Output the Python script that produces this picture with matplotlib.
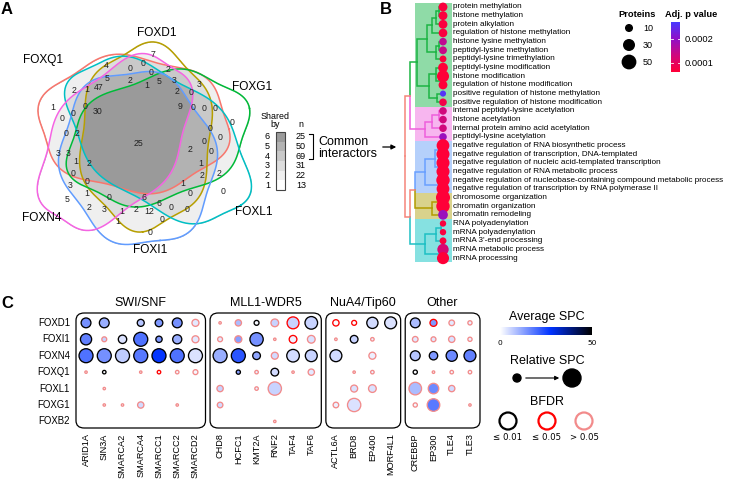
import numpy as np
import matplotlib
matplotlib.use('Agg')
import matplotlib.pyplot as plt
from matplotlib.path import Path
from matplotlib.patches import Rectangle, FancyBboxPatch, Circle
from matplotlib.colors import LinearSegmentedColormap, Normalize, to_rgba

plt.rcParams['font.family'] = ['Liberation Sans', 'DejaVu Sans']

W, H = 738, 479
fig = plt.figure(figsize=(W / 100, H / 100), dpi=100)


def px_axes(x0, y0, x1, y1):
    return fig.add_axes([x0 / W, 1 - y1 / H, (x1 - x0) / W, (y1 - y0) / H])


ov = px_axes(0, 0, W, H)
ov.set_xlim(0, W)
ov.set_ylim(H, 0)
ov.axis('off')

# ---------------- data ----------------
# A: Venn of interactors
venn_sets = ['FOXQ1', 'FOXD1', 'FOXG1', 'FOXL1', 'FOXI1', 'FOXN4']
venn_colors = ['#F8766D', '#B79F00', '#00BA38', '#00BFC4', '#619CFF', '#F564E3']
venn_counts = [7, 4, 0, 0, 2, 5, 2, 0, 5, 3, 3, 2, 1, 47, 1, 2, 0, 1, 0, 30,
               9, 0, 0, 0, 0, 0, 0, 0, 0, 2, 0, 25, 3, 3, 1, 2, 2, 0, 0, 1,
               2, 2, 0, 0, 3, 1, 0, 0, 5, 1, 0, 6, 2, 3, 6, 0, 0, 1, 2, 12,
               0, 1, 0]
shared_by = [6, 5, 4, 3, 2, 1]
shared_n = [25, 50, 69, 31, 22, 13]

# B: GO terms
go_terms = ['protein methylation', 'histone methylation', 'protein alkylation',
            'regulation of histone methylation', 'histone lysine methylation',
            'peptidyl-lysine methylation', 'peptidyl-lysine trimethylation',
            'peptidyl-lysine modification', 'histone modification',
            'regulation of histone modification',
            'positive regulation of histone methylation',
            'positive regulation of histone modification',
            'internal peptidyl-lysine acetylation', 'histone acetylation',
            'internal protein amino acid acetylation', 'peptidyl-lysine acetylation',
            'negative regulation of RNA biosynthetic process',
            'negative regulation of transcription, DNA-templated',
            'negative regulation of nucleic acid-templated transcription',
            'negative regulation of RNA metabolic process',
            'negative regulation of nucleobase-containing compound metabolic process',
            'negative regulation of transcription by RNA polymerase II',
            'chromosome organization', 'chromatin organization', 'chromatin remodeling',
            'RNA polyadenylation', 'mRNA polyadenylation', "mRNA 3'-end processing",
            'mRNA metabolic process', 'mRNA processing']
go_proteins = [20, 20, 20, 19, 14, 15, 11, 25, 40, 20, 8, 14, 14, 14, 14, 14,
               45, 47, 47, 47, 50, 45, 55, 50, 25, 9, 9, 11, 35, 40]
go_padj = [7e-5, 7e-5, 7e-5, 7e-5, 1.5e-4, 1.4e-4, 7e-5, 6e-5, 5e-5, 6e-5, 2.6e-4, 8e-5,
           1.3e-4, 1.3e-4, 1.3e-4, 1.9e-4, 5e-5, 5e-5, 5e-5, 5e-5, 5e-5, 5e-5,
           5e-5, 5e-5, 1.9e-4, 7e-5, 7e-5, 7e-5, 1.2e-4, 6e-5]
go_clusters = ['green'] * 12 + ['pink'] * 4 + ['blue'] * 6 + ['olive'] * 3 + ['cyan'] * 5
# dendrogram: [left, right, height]
green_tree = [[[[[0, 1, 4], 2, 7], 3, 11], [[4, 5, 4], 6, 7], 16],
              [[7, [8, 9, 2], 7], [10, 11, 6], 14], 26]
pink_tree = [[[12, 13, 4], 14, 11], 15, 18]
blue_tree = [[[16, 17, 2], [18, 19, 2], 8], [20, 21, 3], 18]
olive_tree = [[22, 23, 2], 24, 11]
cyan_tree = [[[25, 26, 2], 27, 7], [28, 29, 3], 18]
go_tree = [[green_tree, pink_tree, 33], [[blue_tree, olive_tree, 28], cyan_tree, 33], 38]

# C: interactor dot plot
baits = ['FOXD1', 'FOXI1', 'FOXN4', 'FOXQ1', 'FOXL1', 'FOXG1', 'FOXB2']
groups = ['SWI/SNF', 'MLL1-WDR5', 'NuA4/Tip60', 'Other']
group_genes = [['ARID1A', 'SIN3A', 'SMARCA2', 'SMARCA4', 'SMARCC1', 'SMARCC2', 'SMARCD2'],
               ['CHD8', 'HCFC1', 'KMT2A', 'RNF2', 'TAF4', 'TAF6'],
               ['ACTL6A', 'BRD8', 'EP400', 'MORF4L1'],
               ['CREBBP', 'EP300', 'TLE4', 'TLE3']]
nan = np.nan
avg_spc = np.array([
    [15, 11, nan, 8, 14, 15, 3, 1, 9, 1, 6, 6, 6, 0.5, 0.5, 5, 4, 9, 14, 3, 2],
    [17, 6, 4, 19, 14, 11, 3, 3, 13, 15, 1, 2, 4, 1, 6, 2, nan, 3, 3, 4, 2],
    [19, 15, 7, 18, 27, 19, 4, 11, 23, 12, 5, 5, 6, 5, nan, 2, nan, 8, 14, 16, 17],
    [1, 0.5, nan, 1, 0.5, 1, 1, nan, 13, 2, 5, 1, 3, nan, 1, 2, nan, 0.5, 1, 1, 1],
    [nan, 1, nan, nan, nan, nan, nan, 6, nan, 2, 6, nan, nan, nan, 4, 4, nan, 9, 16, 5, nan],
    [nan, 1, 1, 5, nan, 1, nan, 5, nan, nan, nan, nan, nan, 2, 4, nan, nan, 1, 18, nan, 1],
    [nan, nan, nan, nan, nan, nan, nan, nan, nan, nan, 1, nan, nan, nan, nan, nan, nan, nan, nan, nan, nan],
])
rel_spc = np.array([
    [.70, .70, nan, .50, .55, .70, .50, .15, .45, .35, .55, .85, .90, .45, .35, .80, .85, .70, .50, .40, .30],
    [.80, .35, .60, 1.0, .45, .65, .50, .35, .50, .95, .12, .55, .55, .18, .55, .25, nan, .40, .35, .45, .30],
    [1.0, 1.0, 1.0, 1.0, 1.0, 1.0, 1.0, 1.0, 1.0, .55, .50, .90, .85, .85, nan, .50, nan, .70, .60, .80, .85],
    [.12, .25, nan, .12, .25, .25, .35, nan, .30, .25, .55, .15, .45, nan, .15, .25, nan, .30, .18, .25, .25],
    [nan, .12, nan, nan, nan, nan, nan, .45, nan, .25, .95, nan, nan, nan, .50, .55, nan, .90, .75, .45, nan],
    [nan, .10, .15, .45, nan, .10, nan, .40, nan, nan, nan, nan, nan, .40, .95, nan, nan, .30, .90, nan, .10],
    [nan, nan, nan, nan, nan, nan, nan, nan, nan, nan, .12, nan, nan, nan, nan, nan, nan, nan, nan, nan, nan],
])
# 0: BFDR <= 0.01, 1: <= 0.05, 2: > 0.05
bfdr = np.array([
    [0, 0, 2, 0, 0, 0, 2, 2, 2, 0, 2, 1, 0, 1, 1, 0, 0, 0, 1, 2, 2],
    [0, 2, 0, 0, 0, 0, 2, 2, 2, 0, 2, 1, 2, 2, 0, 2, 2, 2, 2, 2, 2],
    [0, 0, 0, 0, 0, 0, 0, 0, 0, 0, 2, 0, 0, 0, 2, 2, 2, 0, 0, 0, 0],
    [2, 0, 2, 2, 1, 2, 2, 2, 0, 2, 0, 2, 2, 2, 2, 2, 2, 0, 2, 2, 2],
    [2] * 21, [2] * 21, [2] * 21,
])

# ---------------- panel letters ----------------
for lab, x, y in (('A', 7, 9), ('B', 386, 9), ('C', 7, 303)):
    ov.text(x, y, lab, fontsize=12, fontweight='bold', ha='center', va='center')

# ---------------- A: Venn ----------------
venn_shapes = [(134, 124, 95, 67, 3, 0.0),
               (146, 137, 92, 66, 92, 1.0),
               (158, 138, 93, 62, -18, 2.0),
               (158, 140, 105, 62, 38, 3.0),
               (138, 158, 88, 76, 75, 4.0),
               (115, 142, 97, 60, -53, 5.0)]
venn_label_xy = [(43, 60), (157, 33), (252, 87), (254, 212), (150, 250), (42, 218)]
venn_count_xy = [(153, 54), (106, 65), (130, 68), (143, 63), (168, 69), (107, 78), (130, 80),
                 (151, 72), (159, 81), (174, 80), (199, 84), (74, 90), (87, 89), (99, 87),
                 (147, 85), (177, 91), (191, 92), (53, 107), (85, 106), (98, 111), (180, 106),
                 (193, 107), (204, 108), (215, 108), (232, 122), (62, 118), (73, 113),
                 (210, 128), (220, 137), (77, 134), (66, 134), (138, 143), (58, 154), (68, 153),
                 (76, 161), (89, 164), (190, 149), (204, 141), (211, 151), (201, 163),
                 (202, 176), (219, 173), (73, 173), (87, 181), (70, 186), (183, 183),
                 (190, 193), (223, 192), (67, 200), (87, 193), (109, 198), (144, 198),
                 (89, 207), (104, 209), (159, 203), (171, 207), (187, 209), (122, 212),
                 (136, 210), (149, 212), (162, 219), (118, 222), (150, 232)]


def blob(cx, cy, a, b, ang, ph, amp=3.5, k=6, n=500):
    t = np.linspace(0, 2 * np.pi, n)
    w = amp * np.sin(k * t + ph)
    x = (a + w) * np.cos(t)
    y = (b + w) * np.sin(t)
    r = np.deg2rad(ang)
    return np.column_stack([cx + x * np.cos(r) - y * np.sin(r),
                            cy + x * np.sin(r) + y * np.cos(r)])


curves = [blob(*s) for s in venn_shapes]
gx = np.arange(20, 265, 0.5)
gy = np.arange(30, 255, 0.5)
GX, GY = np.meshgrid(gx, gy)
pts = np.column_stack([GX.ravel(), GY.ravel()])
cnt = np.zeros(len(pts), int)
for c in curves:
    cnt += Path(c).contains_points(pts)
cnt = cnt.reshape(GX.shape)
grays = ['#ffffff', '#efefef', '#dddddd', '#c9c9c9', '#b3b3b3', '#9b9b9b']
img = np.zeros(cnt.shape + (4,))
for k in range(1, 7):
    img[cnt == k] = to_rgba(grays[k - 1])
ov.imshow(img, extent=(gx[0], gx[-1], gy[-1], gy[0]), origin='upper',
          interpolation='bilinear', zorder=1, aspect='auto')
ov.set_xlim(0, W)
ov.set_ylim(H, 0)
for c, col in zip(curves, venn_colors):
    ov.plot(c[:, 0], c[:, 1], color=col, lw=1.1, zorder=2)
for name, (x, y) in zip(venn_sets, venn_label_xy):
    ov.text(x, y, name, fontsize=8.6, ha='center', va='center', zorder=3)
for n, (x, y) in zip(venn_counts, venn_count_xy):
    ov.text(x, y, str(n), fontsize=6.3, ha='center', va='center', color='#222222', zorder=3)

# shared-by legend
ov.text(275, 116, 'Shared', fontsize=6.4, ha='center', va='center')
ov.text(275, 124, 'by', fontsize=6.4, ha='center', va='center')
ov.text(301, 124, 'n', fontsize=6.4, ha='center', va='center')
cell = 9.67
for i, (s, n) in enumerate(zip(shared_by, shared_n)):
    y = 132 + i * cell
    ov.add_patch(Rectangle((276, y), 9, cell, facecolor=grays[s - 1], edgecolor='none', zorder=2))
    ov.text(270, y + cell / 2, str(s), fontsize=6.5, ha='right', va='center')
    ov.text(301, y + cell / 2, str(n), fontsize=6.5, ha='center', va='center')
ov.add_patch(Rectangle((276, 132), 9, 6 * cell, fill=False, edgecolor='#444444', lw=0.8, zorder=3))
ov.plot([309, 313, 313, 309], [134, 134, 159, 159], color='black', lw=0.8)
ov.text(318, 142, 'Common', fontsize=9, ha='left', va='center')
ov.text(318, 154, 'interactors', fontsize=9, ha='left', va='center')
ov.annotate('', xy=(399, 147), xytext=(380, 147),
            arrowprops=dict(arrowstyle='-|>', lw=0.9, color='black', mutation_scale=7))

# ---------------- B: GO dendrogram ----------------
axb = px_axes(400, 7 - 4.33, 453, 7 + 8.66 * 29 + 4.33)
axb.set_xlim(43, -10)
axb.set_ylim(29.5, -0.5)
axb.axis('off')
block_col = {'green': '#8fdba7', 'pink': '#f7b6ef', 'blue': '#b5d0fb',
             'olive': '#d9d28c', 'cyan': '#86e1e1'}
line_col = {'green': '#1db544', 'pink': '#ef5fdc', 'blue': '#6aa0ff',
            'olive': '#b29c00', 'cyan': '#1ec0c4', 'mix': '#f5857a'}
for cl in block_col:
    idx = [i for i, c in enumerate(go_clusters) if c == cl]
    axb.add_patch(Rectangle((-9, idx[0] - 0.5), 37, len(idx), facecolor=block_col[cl],
                            edgecolor='none', zorder=0))


def draw_tree(node):
    if isinstance(node, int):
        return node, 0.0, go_clusters[node]
    left, right, h = node
    y1, h1, c1 = draw_tree(left)
    y2, h2, c2 = draw_tree(right)
    ym = (y1 + y2) / 2
    for y, hc, c in ((y1, h1, c1), (y2, h2, c2)):
        axb.plot([hc, h, h], [y, y, ym], color=line_col[c], lw=1.1, zorder=1,
                 solid_joinstyle='miter', clip_on=False)
    return ym, h, (c1 if c1 == c2 else 'mix')


draw_tree(go_tree)

p_cmap = LinearSegmentedColormap.from_list('p', ['#ff0038', '#d0087e', '#9010c8', '#4a3aff'])
p_norm = Normalize(6.25e-5, 2.7e-4)


def prot_size(n):
    r = np.sqrt(2.5 + 0.85 * np.asarray(n, float))
    return (2 * r * 0.72) ** 2


rows = np.arange(len(go_terms))
axb.scatter(np.zeros(len(rows)), rows, s=prot_size(go_proteins), c=go_padj, cmap=p_cmap,
            norm=p_norm, edgecolors='none', zorder=3, clip_on=False)
for i, t in enumerate(go_terms):
    axb.text(-10, i, t, fontsize=5.85, ha='left', va='center')

# B legends
ov.text(637, 14, 'Proteins', fontsize=6.7, fontweight='bold', ha='center', va='center')
for n, y in zip([10, 30, 50], [28, 45, 62]):
    r = np.sqrt(2.5 + 0.85 * n)
    ov.add_patch(Circle((629, y), r, color='black'))
    ov.text(643, y, str(n), fontsize=6.5, ha='left', va='center')
ov.text(691, 14, 'Adj. p value', fontsize=6.7, fontweight='bold', ha='center', va='center')
axp = px_axes(671, 22, 680, 72)
grad = np.linspace(p_norm.vmin, p_norm.vmax, 200).reshape(-1, 1)
axp.imshow(grad, cmap=p_cmap, norm=p_norm, aspect='auto', origin='lower',
           extent=(0, 1, p_norm.vmin, p_norm.vmax))
axp.set_xticks([])
axp.yaxis.tick_right()
axp.set_yticks([1e-4, 2e-4])
axp.set_yticklabels(['0.0001', '0.0002'], fontsize=6.7)
axp.tick_params(length=0, pad=3)
for v in (1e-4, 2e-4):
    axp.axhline(v, 0, 0.2, color='white', lw=0.6)
    axp.axhline(v, 0.8, 1, color='white', lw=0.6)
for s in axp.spines.values():
    s.set_visible(False)

# ---------------- C: dot plot ----------------
axc = px_axes(76, 313, 480, 428)
axc.set_xlim(-0.55, 21.6)
axc.set_ylim(6.4, -0.6)
axc.axis('off')
spc_cmap = LinearSegmentedColormap.from_list('spc', [(0, '#ffffff'), (0.55, '#0033ff'), (1, '#000000')])
spc_norm = Normalize(0, 50)
edge_cols = np.array(['#000000', '#ff0000', '#f28b8b'])

xpos = []
start = 0.0
for g, genes in zip(groups, group_genes):
    xs = start + np.arange(len(genes))
    xpos.extend(xs)
    x0, x1 = xs[0] - 0.55, xs[-1] + 0.55
    axc.add_patch(FancyBboxPatch((x0, -0.6), x1 - x0, 7.0,
                                 boxstyle='round,pad=0,rounding_size=0.45',
                                 fill=False, ec='black', lw=0.9, clip_on=False))
    axc.text((x0 + x1) / 2, -1.22, g, fontsize=9, ha='center', va='center')
    for x, gene in zip(xs, genes):
        axc.text(x, 6.72, gene, rotation=90, fontsize=6.6, ha='center', va='top')
    start = xs[-1] + 1.35
xpos = np.array(xpos)
for i, b in enumerate(baits):
    axc.text(-0.88, i, b, fontsize=6.9, ha='right', va='center')

YY, XX = np.meshgrid(np.arange(len(baits)), xpos, indexing='ij')
m = ~np.isnan(avg_spc)
r_px = np.maximum(7 * rel_spc[m], 1.2)
axc.scatter(XX[m], YY[m], s=(2 * r_px * 0.72) ** 2, c=avg_spc[m], cmap=spc_cmap, norm=spc_norm,
            edgecolors=edge_cols[bfdr[m]], linewidths=0.95, zorder=3, clip_on=False)

# C legends
ov.text(547, 317, 'Average SPC', fontsize=9, ha='center', va='center')
axs = px_axes(500, 327, 592, 335)
axs.imshow(np.linspace(0, 50, 200).reshape(1, -1), cmap=spc_cmap, norm=spc_norm, aspect='auto')
axs.axis('off')
ov.text(500, 343, '0', fontsize=5.4, ha='center', va='center', family='DejaVu Sans')
ov.text(592, 343, '50', fontsize=5.4, ha='center', va='center', family='DejaVu Sans')
ov.text(547, 361, 'Relative SPC', fontsize=9, ha='center', va='center')
ov.add_patch(Circle((517, 378), 4, color='black'))
ov.add_patch(Circle((572, 378), 9, color='black'))
ov.annotate('', xy=(562, 378), xytext=(523, 378),
            arrowprops=dict(arrowstyle='-|>', lw=0.8, color='black', mutation_scale=6))
ov.text(547, 402, 'BFDR', fontsize=9, ha='center', va='center')
for x, ec, lab in zip([508, 547, 584], edge_cols, ['\u2264 0.01', '\u2264 0.05', '> 0.05']):
    ov.add_patch(Circle((x, 421), 8.5, facecolor='white', edgecolor=ec, lw=1.6))
    ov.text(x, 438, lab, fontsize=6.2, ha='center', va='center', family='DejaVu Sans')

fig.savefig('out.png', dpi=100)
